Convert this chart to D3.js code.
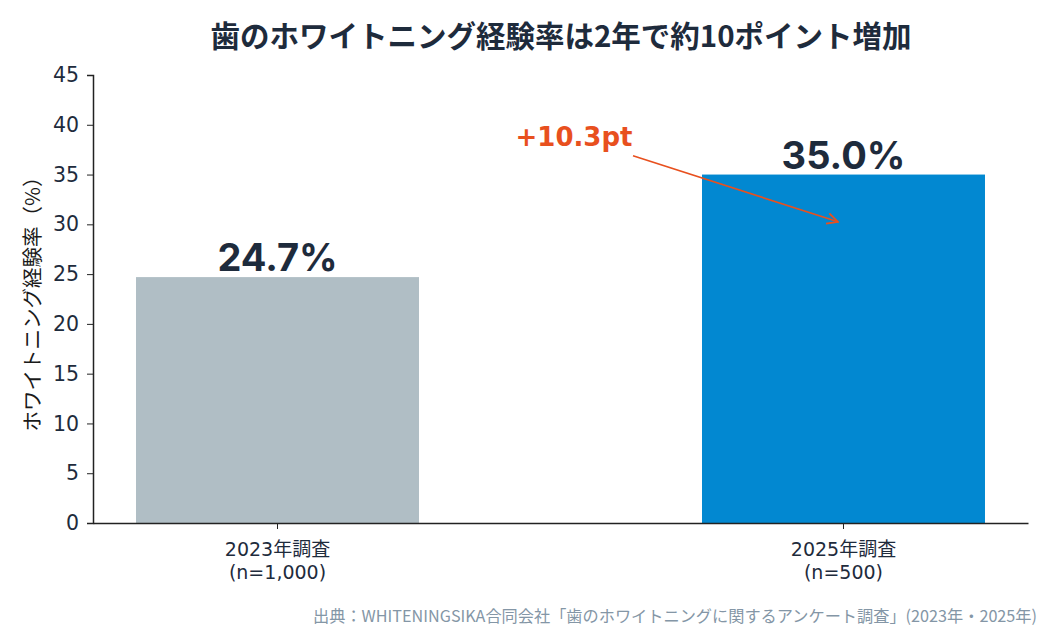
<!DOCTYPE html>
<html>
<head>
<meta charset="utf-8">
<script src="https://cdn.jsdelivr.net/npm/d3@7"></script>
<style>
  body { margin: 0; background: #fff; }
  svg text { font-family: "Noto Sans CJK JP", sans-serif; }
  svg text.latin { font-family: "DejaVu Sans", "Noto Sans CJK JP", sans-serif; }
  svg text.big { font-family: "Inter", "Noto Sans CJK JP", sans-serif; }
</style>
</head>
<body>
<div id="chart"></div>
<script>
// data
var categories = ["2023年調査\n(n=1,000)", "2025年調査\n(n=500)"];
var values = [24.7, 35.0];
var valueLabels = ["24.7%", "35.0%"];
var yTicks = [0, 5, 10, 15, 20, 25, 30, 35, 40, 45];
var diffLabel = "+10.3pt";
var diffArrowFrom = 36.9; // value level where the arrow starts
var diffArrowTo = 30.25;  // value level where the arrow points

var width = 1050, height = 630;
var margin = {left: 93, right: 22, top: 75, bottom: 107};
var dark = "#1e2b3c";

var svg = d3.select("#chart").append("svg")
    .attr("width", width)
    .attr("height", height);

var x = d3.scaleBand()
    .domain(categories)
    .range([margin.left, width - margin.right])
    .paddingInner(0.5)
    .paddingOuter(0.076);

var y = d3.scaleLinear()
    .domain([0, 45])
    .range([height - margin.bottom, margin.top]);

// bars
svg.selectAll("rect.bar")
    .data(values)
    .enter()
    .append("rect")
    .attr("class", "bar")
    .attr("x", (d, i) => x(categories[i]))
    .attr("y", d => y(d))
    .attr("width", x.bandwidth())
    .attr("height", d => y(0) - y(d))
    .attr("fill", (d, i) => i === 0 ? "#b0bec5" : "#0288d1");

// y axis
var yAxis = svg.append("g")
    .attr("transform", "translate(" + margin.left + ",0)")
    .call(d3.axisLeft(y).tickValues(yTicks).tickSize(6).tickPadding(8));
yAxis.select(".domain").attr("stroke", "#222").attr("stroke-width", 1.5);
yAxis.selectAll(".tick line").attr("stroke", "#222");
yAxis.selectAll(".tick text")
    .attr("class", "latin")
    .attr("fill", dark)
    .attr("font-size", 20.5);

// x axis
var xAxis = svg.append("g")
    .attr("transform", "translate(0," + y(0) + ")")
    .call(d3.axisBottom(x).tickSize(6).tickSizeOuter(0));
xAxis.select(".domain").attr("stroke", "#222").attr("stroke-width", 1.5);
xAxis.selectAll(".tick line").attr("stroke", "#222");
xAxis.selectAll(".tick text").remove();
xAxis.selectAll(".tick").each(function(d) {
    var g = d3.select(this);
    d.split("\n").forEach(function(line, k) {
        g.append("text")
            .attr("class", "latin")
            .attr("fill", dark)
            .attr("font-size", 19)
            .attr("text-anchor", "middle")
            .attr("x", 0)
            .attr("y", 33 + k * 23)
            .text(line);
    });
});

// value labels
svg.selectAll("text.val")
    .data(values)
    .enter()
    .append("text")
    .attr("class", "val big")
    .attr("x", (d, i) => x(categories[i]) + x.bandwidth() / 2)
    .attr("y", d => y(d) - 6)
    .attr("text-anchor", "middle")
    .attr("font-size", 38)
    .attr("font-weight", "bold")
    .attr("fill", dark)
    .text((d, i) => valueLabels[i]);

// title
svg.append("text")
    .attr("x", 561)
    .attr("y", 47)
    .attr("text-anchor", "middle")
    .attr("font-size", 29.5)
    .attr("font-weight", "bold")
    .attr("fill", dark)
    .text("歯のホワイトニング経験率は2年で約10ポイント増加");

// y axis label
svg.append("text")
    .attr("transform", "translate(40," + y(22.5) + ") rotate(-90)")
    .attr("text-anchor", "middle")
    .attr("font-size", 20.5)
    .attr("fill", "#1a1a1a")
    .text("ホワイトニング経験率（%）");

// annotation
var orange = "#e8501e";
svg.append("defs").append("marker")
    .attr("id", "arrow")
    .attr("viewBox", "0 0 12 12")
    .attr("refX", 11)
    .attr("refY", 6)
    .attr("markerWidth", 13)
    .attr("markerHeight", 13)
    .attr("markerUnits", "userSpaceOnUse")
    .attr("orient", "auto")
    .append("path")
    .attr("d", "M1,1 L11,6 L1,11")
    .attr("fill", "none")
    .attr("stroke", orange)
    .attr("stroke-width", 1.6);

svg.append("text")
    .attr("class", "latin")
    .attr("x", 574)
    .attr("y", 146)
    .attr("text-anchor", "middle")
    .attr("font-size", 26)
    .attr("font-weight", "bold")
    .attr("fill", orange)
    .text(diffLabel);

svg.append("line")
    .attr("x1", 633)
    .attr("y1", y(diffArrowFrom))
    .attr("x2", 838)
    .attr("y2", y(diffArrowTo))
    .attr("stroke", orange)
    .attr("stroke-width", 1.6)
    .attr("marker-end", "url(#arrow)");

// source
svg.append("text")
    .attr("x", 1037)
    .attr("y", 622)
    .attr("text-anchor", "end")
    .attr("font-size", 16.2)
    .attr("fill", "#8496a6")
    .text("出典：WHITENINGSIKA合同会社「歯のホワイトニングに関するアンケート調査」(2023年・2025年)");
</script>
</body>
</html>
